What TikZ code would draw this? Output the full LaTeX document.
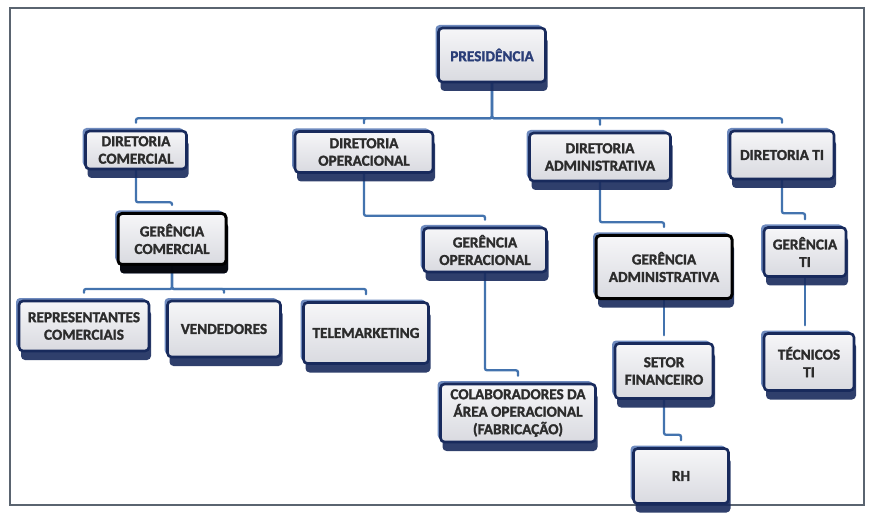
\documentclass[tikz,border=0pt]{standalone}
\usepackage{fontspec}
\setmainfont{Carlito}[BoldFont={Carlito Bold}, BoldFeatures={FakeBold=1.6}]
\usetikzlibrary{shadows,backgrounds}
\definecolor{navy}{HTML}{182A5C}
\definecolor{glow}{HTML}{4A6DAE}
\definecolor{boxtop}{HTML}{F6F6F8}
\definecolor{boxbot}{HTML}{D9DAE0}
\definecolor{txt}{HTML}{2C2C2C}
\definecolor{prestxt}{HTML}{2A3E78}
\definecolor{connc}{HTML}{4373AE}
\definecolor{framec}{HTML}{5A6470}
\tikzset{
  box/.style={draw=navy, line width=2.6pt, rounded corners=4pt,
    top color=boxtop, bottom color=boxbot,
    font=\fontsize{15.2}{17.5}\selectfont\bfseries\color{txt}, align=center, inner sep=1pt,
    general shadow={shadow xshift=-3pt, shadow yshift=3pt, fill=glow, opacity=.8},
    general shadow={shadow xshift=2pt, shadow yshift=-9pt, fill=navy, opacity=.9}},
  blackbox/.style={box, draw=black, line width=3pt},
  conn/.style={draw=connc, line width=2.3pt, line cap=round, rounded corners=2pt},
  tip/.style={shorten >=7pt}
}
\begin{document}
\begin{tikzpicture}[x=1pt,y=-1pt]
\useasboundingbox (0,0) rectangle (875,529);

\node[box, minimum width=107pt, minimum height=54pt, font=\fontsize{15.2}{17.5}\selectfont\bfseries\color{prestxt}] (pres) at (492,55) {PRESIDÊNCIA};

\node[box, minimum width=101pt, minimum height=38pt] (dc) at (136,150) {DIRETORIA\\COMERCIAL};
\node[box, minimum width=138pt, minimum height=41pt] (dop) at (364,152) {DIRETORIA\\OPERACIONAL};
\node[box, minimum width=141pt, minimum height=48pt] (da) at (600,157) {DIRETORIA\\ADMINISTRATIVA};
\node[box, minimum width=104pt, minimum height=48pt] (dti) at (782,155) {DIRETORIA TI};

\node[blackbox, minimum width=108pt, minimum height=51pt, general shadow={shadow xshift=2pt, shadow yshift=-9pt, fill=black, opacity=.85}] (gc) at (172,239) {GERÊNCIA\\COMERCIAL};
\node[box, minimum width=130pt, minimum height=50pt] (rep) at (84,326) {REPRESENTANTES\\COMERCIAIS};
\node[box, minimum width=113pt, minimum height=56pt] (ven) at (224,329) {VENDEDORES};
\node[box, minimum width=125pt, minimum height=61pt] (tel) at (366,333) {TELEMARKETING};

\node[box, minimum width=123pt, minimum height=44pt] (gop) at (485,250) {GERÊNCIA\\OPERACIONAL};
\node[box, minimum width=155pt, minimum height=58pt] (col) at (518,413) {COLABORADORES DA\\ÁREA OPERACIONAL\\(FABRICAÇÃO)};

\node[blackbox, minimum width=136pt, minimum height=63pt] (ga) at (664,267) {GERÊNCIA\\ADMINISTRATIVA};
\node[box, minimum width=98pt, minimum height=55pt] (sf) at (664,371) {SETOR\\FINANCEIRO};
\node[box, minimum width=95pt, minimum height=55pt] (rh) at (681,476) {RH};

\node[box, minimum width=82pt, minimum height=49pt] (gti) at (805,252) {GERÊNCIA\\TI};
\node[box, minimum width=90pt, minimum height=57pt] (tec) at (809,362) {TÉCNICOS\\TI};

\begin{pgfonlayer}{background}
\draw[framec, line width=1.3pt] (10,8) rectangle (864,505);
\foreach \d in {dc,dop,da,dti}
  \draw[conn,tip] (pres.south) -- ++(0,35) -| (\d.north);
\draw[conn,tip] (dc.south) -- ++(0,32) -| (gc.north);
\foreach \c in {rep,ven,tel}
  \draw[conn,tip] (gc.south) -- ++(0,23) -| (\c.north);
\draw[conn,tip] (dop.south) -- ++(0,42) -| (gop.north);
\draw[conn,tip] (gop.south) -- ++(0,97) -| (col.north);
\draw[conn,tip] (da.south) -- ++(0,40) -| (ga.north);
\draw[conn,tip] (ga.south) -- (ga.south |- sf.north);
\draw[conn,tip] (sf.south) -- ++(0,35) -| (rh.north);
\draw[conn,tip] (dti.south) -- ++(0,33) -| (gti.north);
\draw[conn,tip] (gti.south) -- (gti.south |- tec.north);
\end{pgfonlayer}
\end{tikzpicture}
\end{document}
